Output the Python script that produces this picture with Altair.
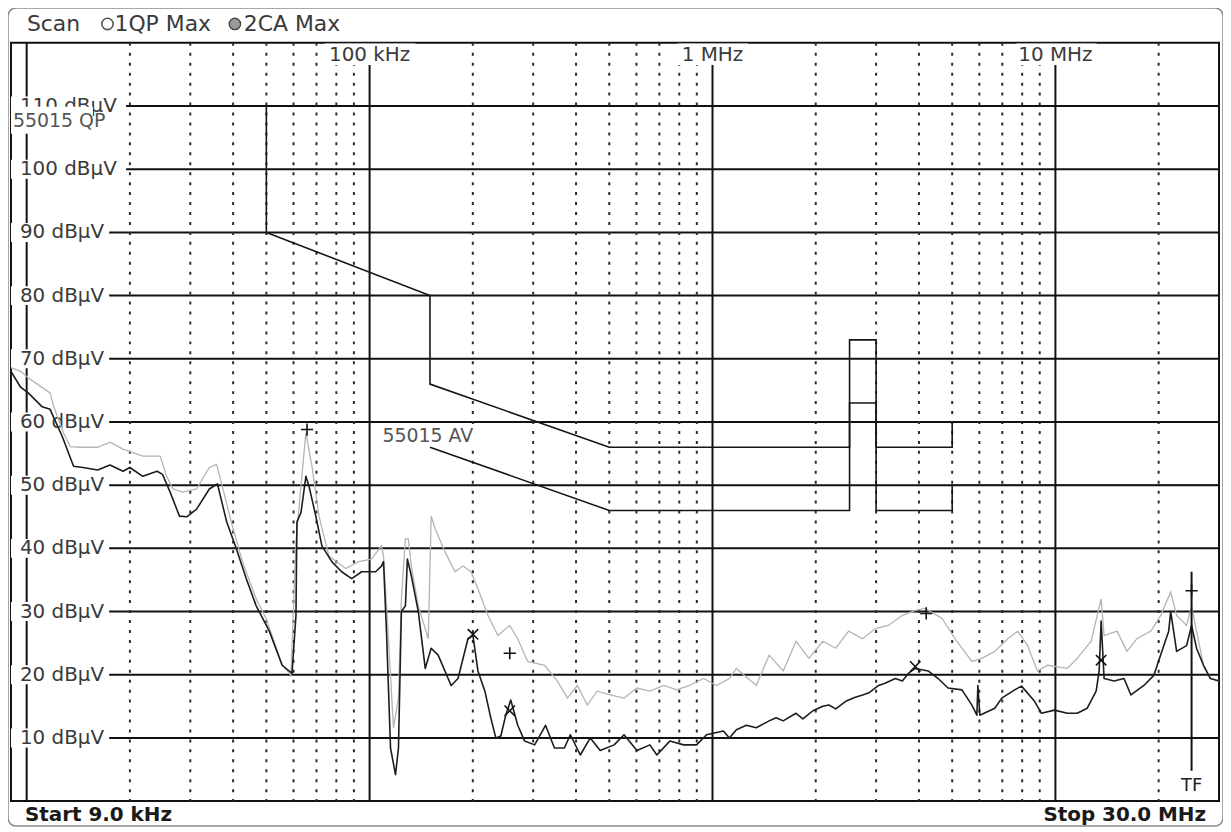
import altair as alt
import pandas as pd

# ---------------- data ----------------
# Trace 1: QP Max (light gray)
qp_freq_khz = [9.0, 9.6, 10.1, 11.0, 11.7, 12.0, 12.8, 13.4, 14.3, 16.1,
               17.5, 19.1, 21.8, 24.5, 25.6, 26.7, 28.5, 31.3, 34.1, 35.8,
               37.2, 39.8, 42.6, 46.7, 49.9, 55.6, 59.0, 61.0, 63.1, 65.2,
               67.9, 71.2, 76.1, 85.2, 92.9, 101.3, 108.3, 109.8, 113.5, 117.4,
               121.4, 123.8, 127.2, 129.7, 132.3, 138.7, 148.3, 151.2, 155.3, 166.1,
               177.5, 187.3, 197.5, 207.0, 221.3, 236.6, 256.3, 270.4, 289.0, 323.7,
               353.0, 377.4, 403.5, 431.3, 461.1, 503.0, 552.1, 602.2, 656.8, 721.1,
               786.5, 857.7, 941.6, 1027, 1120, 1174, 1341, 1463, 1607, 1752,
               1911, 2097, 2288, 2495, 2740, 2988, 3258, 3578, 3902, 4172,
               4673, 5095, 5339, 5708, 6102, 6655, 7261, 7762, 8297, 8868,
               9480, 10834, 11582, 12713, 13594, 13869, 15126, 16170, 17285, 18978,
               20287, 21686, 22570, 24130, 24950, 25796, 27032, 28323, 30000]
qp_level_dbuv = [68.6, 68.0, 67.0, 65.6, 64.6, 62.4, 58.3, 56.1, 56.0, 56.0,
                 56.8, 55.7, 54.6, 54.6, 51.4, 49.4, 48.9, 49.4, 52.8, 53.3,
                 49.8, 43.5, 37.9, 32.0, 28.9, 21.5, 19.9, 41.0, 50.0, 58.3,
                 53.0, 45.1, 38.8, 36.8, 37.9, 38.3, 40.4, 38.8, 25.7, 11.6,
                 16.3, 32.0, 41.5, 41.5, 37.2, 30.9, 25.7, 45.1, 43.1, 39.4,
                 36.3, 37.2, 36.3, 33.6, 29.4, 26.2, 27.8, 25.7, 22.1, 21.5,
                 19.0, 16.3, 18.3, 15.2, 17.4, 16.8, 16.3, 17.9, 17.4, 18.3,
                 17.6, 18.3, 19.4, 18.3, 19.4, 21.0, 18.3, 23.1, 20.6, 25.3,
                 22.6, 25.3, 24.2, 26.9, 25.7, 27.3, 27.8, 29.4, 30.2, 30.5,
                 28.9, 25.7, 24.2, 22.1, 22.6, 23.7, 25.7, 26.9, 24.6, 20.6,
                 21.5, 21.0, 22.6, 25.3, 32.0, 26.2, 26.9, 23.7, 25.7, 26.9,
                 29.4, 33.1, 29.4, 27.8, 30.9, 26.9, 21.5, 19.4, 19.0]

# Trace 2: CA Max (black)
ca_freq_khz = [9.0, 9.6, 10.1, 11.1, 11.7, 12.7, 13.7, 14.6, 16.1, 17.5,
               19.1, 20.0, 21.8, 24.0, 24.9, 26.2, 27.9, 29.3, 31.3, 34.1,
               36.0, 38.3, 40.9, 43.7, 46.7, 51.0, 55.6, 59.4, 61.0, 61.4,
               63.1, 65.2, 66.6, 69.7, 72.6, 77.6, 82.9, 88.7, 94.8, 104.1,
               108.3, 109.8, 112.0, 115.1, 119.0, 121.4, 123.8, 127.2, 128.9, 132.3,
               138.7, 145.3, 151.2, 158.5, 172.9, 181.1, 193.6, 200.2, 207.0, 216.9,
               225.8, 233.4, 241.4, 249.5, 258.0, 270.4, 283.3, 302.9, 325.9, 346.0,
               369.9, 385.0, 411.6, 440.1, 470.4, 516.6, 552.1, 602.2, 656.8, 688.3,
               750.6, 824.0, 898.6, 960.7, 1076, 1120, 1174, 1255, 1341, 1463,
               1533, 1607, 1752, 1835, 1963, 2097, 2184, 2288, 2446, 2597,
               2740, 2871, 3049, 3172, 3415, 3578, 3724, 3902, 4256, 4550,
               4864, 5339, 5708, 5902, 5941, 6021, 6655, 6976, 7605, 7968,
               8692, 9109, 9934, 10834, 11582, 12381, 13147, 13413, 13594, 13869,
               14826, 15849, 16607, 18113, 19364, 19756, 20697, 21398, 21686, 22570,
               24130, 24950, 25796, 27032, 28323, 30000]
ca_level_dbuv = [68.0, 65.5, 64.6, 62.4, 62.0, 57.7, 53.0, 52.8, 52.4, 53.2,
                 52.2, 52.8, 51.4, 52.2, 51.7, 48.9, 45.1, 45.0, 46.2, 49.4,
                 50.2, 44.2, 39.9, 35.2, 30.9, 26.9, 21.5, 20.2, 29.4, 44.2,
                 45.7, 51.4, 49.8, 45.1, 40.4, 37.9, 36.3, 35.2, 36.3, 36.3,
                 37.2, 37.9, 26.9, 8.4, 4.2, 8.4, 30.0, 30.9, 38.3, 35.7,
                 30.0, 21.0, 24.2, 23.1, 18.3, 19.4, 25.7, 26.2, 20.6, 17.4,
                 13.1, 10.0, 10.3, 13.6, 16.0, 12.0, 9.5, 8.9, 12.0, 8.4,
                 8.4, 10.5, 7.3, 10.0, 8.0, 8.9, 10.5, 8.0, 8.9, 7.3,
                 9.5, 8.9, 8.9, 10.5, 11.1, 10.0, 11.3, 12.0, 11.6, 12.7,
                 13.2, 12.7, 13.9, 13.0, 14.3, 15.0, 15.2, 14.6, 15.8, 16.4,
                 16.8, 17.2, 18.3, 18.6, 19.4, 19.0, 20.2, 21.0, 20.6, 19.4,
                 17.9, 17.6, 15.2, 13.6, 18.3, 13.6, 14.7, 16.3, 17.6, 18.2,
                 15.8, 13.9, 14.4, 13.9, 13.9, 14.7, 17.4, 20.6, 28.5, 19.4,
                 19.0, 19.4, 16.8, 18.3, 19.9, 21.3, 24.6, 26.9, 30.0, 23.7,
                 24.6, 27.8, 24.2, 21.5, 19.4, 19.0]

# EN 55015 limit lines
qp_limit_freq_khz = [9, 50, 50, 150, 150, 500, 2510, 2510, 3000, 3000, 5000, 5000, 30000]
qp_limit_dbuv = [110, 110, 90, 80, 66, 56, 56, 73, 73, 56, 56, 60, 60]
av_limit_freq_khz = [150, 500, 2510, 2510, 3000, 3000, 5000, 5000, 30000]
av_limit_dbuv = [56, 46, 46, 63, 63, 46, 46, 50, 50]

# markers
qp_marker_freq_khz = [65.7, 256.3, 4200, 24950]
qp_marker_dbuv = [58.8, 23.4, 29.7, 33.3]
ca_marker_freq_khz = [200.2, 256.3, 3902, 13594]
ca_marker_dbuv = [26.4, 14.3, 21.3, 22.3]

tf_freq_khz = [24950]

# grid / tick labels
level_ticks = [10, 20, 30, 40, 50, 60, 70, 80, 90, 100, 110]
level_labels = [f"{v} dB\u00b5V" for v in level_ticks]
decade_full_khz = [10]
decade_labeled_khz = [100, 1000, 10000]
decade_labels = ["100 kHz", "1 MHz", "10 MHz"]
minor_khz = [20, 30, 40, 50, 60, 70, 80, 90,
             200, 300, 400, 500, 600, 700, 800, 900,
             2000, 3000, 4000, 5000, 6000, 7000, 8000, 9000,
             20000]

assert len(qp_freq_khz) == len(qp_level_dbuv)
assert len(ca_freq_khz) == len(ca_level_dbuv)

# ---------------- chart ----------------
FONT = "DejaVu Sans"
W, H = 1214, 762
xs = alt.Scale(type="log", domain=[9, 30000])
ys = alt.Scale(domain=[0, 120], nice=False, zero=False)


def X(f):
    return alt.X(f, type="quantitative", scale=xs, axis=None)


def Y(f):
    return alt.Y(f, type="quantitative", scale=ys, axis=None)


def one(text):
    return pd.DataFrame({"t": [text]})


layers = []

# outer frame of the screen
layers.append(alt.Chart(one("")).mark_rect(fillOpacity=0, stroke="#8a8a8a", strokeWidth=1.5,
                                           cornerRadius=8).encode(
    x=alt.value(-3), x2=alt.value(W + 4), y=alt.value(-35), y2=alt.value(H + 25)))

# horizontal grid
layers.append(alt.Chart(pd.DataFrame({"v": level_ticks})).mark_rule(
    color="#111", strokeWidth=2).encode(y=Y("v")))

# minor dotted verticals
layers.append(alt.Chart(pd.DataFrame({"f": minor_khz})).mark_rule(
    color="#2a2a2a", strokeWidth=2, strokeDash=[3, 7]).encode(x=X("f")))

# decade lines
layers.append(alt.Chart(pd.DataFrame({"f": decade_full_khz})).mark_rule(
    color="#111", strokeWidth=2).encode(x=X("f")))
dec = pd.DataFrame({"f": decade_labeled_khz, "t": decade_labels})
dec["y0"] = 0
dec["y1"] = 116.6
layers.append(alt.Chart(dec).mark_rule(color="#111", strokeWidth=2).encode(
    x=X("f"), y=Y("y0"), y2="y1"))

# limit lines
ql = pd.DataFrame({"f": qp_limit_freq_khz, "v": qp_limit_dbuv})
ql["i"] = range(len(ql))
al = pd.DataFrame({"f": av_limit_freq_khz, "v": av_limit_dbuv})
al["i"] = range(len(al))
for d in (ql, al):
    layers.append(alt.Chart(d).mark_line(color="#151515", strokeWidth=1.6).encode(
        x=X("f"), y=Y("v"), order=alt.Order("i:Q")))

# label backgrounds (top decade labels)
dec_bg = dec.copy()
dec_bg["x0"] = dec_bg["f"] * [0.74, 0.79, 0.77]
dec_bg["x1"] = dec_bg["f"] * [1.36, 1.27, 1.32]
dec_bg["b0"] = 116.5
dec_bg["b1"] = 119.9
layers.append(alt.Chart(dec_bg).mark_rect(color="white").encode(
    x=X("x0"), x2="x1", y=Y("b0"), y2="b1"))

# label backgrounds (level labels)
lv = pd.DataFrame({"v": level_ticks, "t": level_labels})
lv["x0"] = 9
lv["x1"] = [17.4 if v < 100 else 19.5 for v in level_ticks]
lv["b0"] = lv["v"] - 1.5
lv["b1"] = lv["v"] + 1.5
layers.append(alt.Chart(lv).mark_rect(color="white").encode(
    x=X("x0"), x2="x1", y=Y("b0"), y2="b1"))

# level labels
layers.append(alt.Chart(lv).mark_text(align="left", baseline="middle", font=FONT,
                                      fontSize=20, color="#3a3a3a").encode(
    x=alt.value(9), y=Y("v"), text="t:N"))

# decade labels
layers.append(alt.Chart(dec).mark_text(align="center", baseline="middle", font=FONT,
                                       fontSize=20, color="#3a3a3a").encode(
    x=X("f"), y=alt.value(12), text="t:N"))

# limit line names
qp_name = pd.DataFrame({"t": ["55015 QP"], "f": [10.0], "v": [107.6],
                        "x0": [9.0], "x1": [15.6], "b0": [105.6], "b1": [109.9]})
av_name = pd.DataFrame({"t": ["55015 AV"], "f": [109.0], "v": [57.8],
                        "x0": [104.5], "x1": [222.0], "b0": [56.4], "b1": [59.3]})
for d in (qp_name, av_name):
    layers.append(alt.Chart(d).mark_rect(color="white").encode(
        x=X("x0"), x2="x1", y=Y("b0"), y2="b1"))
layers.append(alt.Chart(qp_name).mark_text(align="left", baseline="middle", font=FONT,
                                           fontSize=19, color="#555").encode(
    x=alt.value(2), y=Y("v"), text="t:N"))
layers.append(alt.Chart(av_name).mark_text(align="left", baseline="middle", font=FONT,
                                           fontSize=19, color="#555").encode(
    x=X("f"), y=Y("v"), text="t:N"))

# traces
qp = pd.DataFrame({"f": qp_freq_khz, "v": qp_level_dbuv})
qp["i"] = range(len(qp))
ca = pd.DataFrame({"f": ca_freq_khz, "v": ca_level_dbuv})
ca["i"] = range(len(ca))
layers.append(alt.Chart(qp).mark_line(color="#b4b4b4", strokeWidth=1.3).encode(
    x=X("f"), y=Y("v"), order=alt.Order("i:Q")))
layers.append(alt.Chart(ca).mark_line(color="#1c1c1c", strokeWidth=1.6,
                                      strokeJoin="round").encode(
    x=X("f"), y=Y("v"), order=alt.Order("i:Q")))

# markers
PLUS = "M-1,0L1,0M0,-1L0,1"
CROSS = "M-1,-1L1,1M-1,1L1,-1"
layers.append(alt.Chart(pd.DataFrame({"f": qp_marker_freq_khz, "v": qp_marker_dbuv}))
              .mark_point(shape=PLUS, size=150, filled=False, color="#111",
                          strokeWidth=1.6, opacity=1).encode(x=X("f"), y=Y("v")))
layers.append(alt.Chart(pd.DataFrame({"f": ca_marker_freq_khz, "v": ca_marker_dbuv}))
              .mark_point(shape=CROSS, size=110, filled=False, color="#111",
                          strokeWidth=1.6, opacity=1).encode(x=X("f"), y=Y("v")))

# TF line
tf = pd.DataFrame({"f": tf_freq_khz, "t": ["TF"]})
tf["y0"] = 4.8
tf["y1"] = 36.3
tf["ty"] = 2.4
layers.append(alt.Chart(tf).mark_rule(color="#111", strokeWidth=2).encode(
    x=X("f"), y=Y("y0"), y2="y1"))
layers.append(alt.Chart(tf).mark_text(align="center", baseline="middle", font=FONT,
                                      fontSize=18, color="#222").encode(
    x=X("f"), y=Y("ty"), text="t:N"))

# header
hdr_y = -19
layers.append(alt.Chart(one("Scan")).mark_text(align="left", baseline="middle", font=FONT,
                                               fontSize=22, color="#3a3a3a").encode(
    x=alt.value(16), y=alt.value(hdr_y), text="t:N"))
layers.append(alt.Chart(one("o")).mark_point(shape="circle", size=130, filled=False,
                                             color="#555", strokeWidth=1.6, opacity=1).encode(
    x=alt.value(97), y=alt.value(hdr_y)))
layers.append(alt.Chart(one("1QP Max")).mark_text(align="left", baseline="middle", font=FONT,
                                                  fontSize=22, color="#3a3a3a").encode(
    x=alt.value(104), y=alt.value(hdr_y), text="t:N"))
layers.append(alt.Chart(one("o")).mark_point(shape="circle", size=130, filled=True,
                                             fill="#9a9a9a", stroke="#444", strokeWidth=1.4,
                                             opacity=1).encode(
    x=alt.value(225), y=alt.value(hdr_y)))
layers.append(alt.Chart(one("2CA Max")).mark_text(align="left", baseline="middle", font=FONT,
                                                  fontSize=22, color="#3a3a3a").encode(
    x=alt.value(234), y=alt.value(hdr_y), text="t:N"))

# footer
layers.append(alt.Chart(one("Start 9.0 kHz")).mark_text(align="left", baseline="middle",
                                                        font=FONT, fontSize=20,
                                                        fontWeight="bold", color="#1a1a1a").encode(
    x=alt.value(14), y=alt.value(H + 14), text="t:N"))
layers.append(alt.Chart(one("Stop 30.0 MHz")).mark_text(align="right", baseline="middle",
                                                        font=FONT, fontSize=20,
                                                        fontWeight="bold", color="#1a1a1a").encode(
    x=alt.value(1201), y=alt.value(H + 14), text="t:N"))

chart = alt.layer(*layers).properties(
    width=W, height=H,
    autosize=alt.AutoSizeParams(type="none"),
    padding={"left": 3, "top": 33, "right": 4, "bottom": 27},
    background="white",
).configure_view(stroke="#111", strokeWidth=2)

chart.save("out.html", embed_options={"renderer": "svg", "actions": False})
